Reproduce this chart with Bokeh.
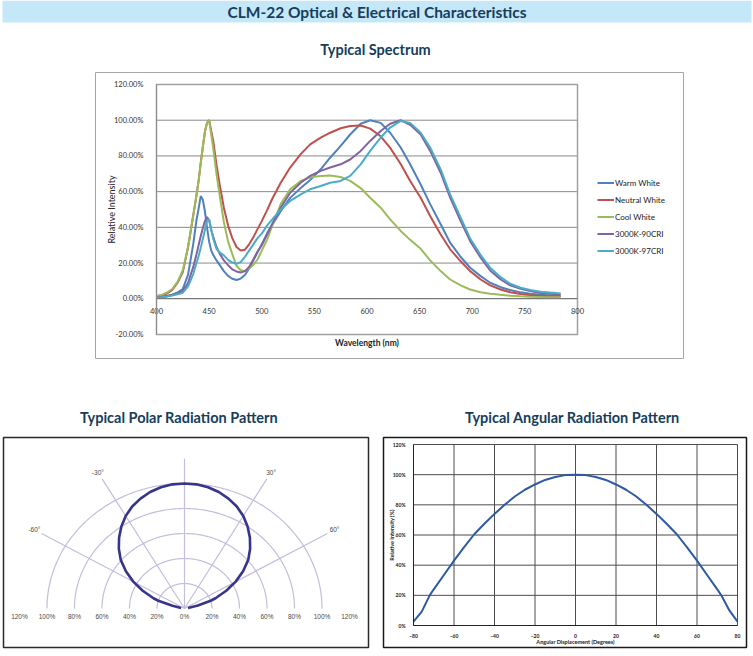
import numpy as np
from bokeh.plotting import figure
from bokeh.models import (Range1d, FixedTicker, PrintfTickFormatter, Legend, LegendItem)
from bokeh.layouts import column, row
from bokeh.core.properties import value
from bokeh.embed import file_html
from bokeh.resources import INLINE

# ---------------- DATA ----------------
page_title = "CLM-22 Optical & Electrical Characteristics"
spectrum_title = "Typical Spectrum"
polar_title = "Typical Polar Radiation Pattern"
angular_title = "Typical Angular Radiation Pattern"

wavelength_nm = [400, 405, 410, 415, 420, 425, 430, 435, 438, 440,
                 442, 444, 446, 448, 450, 452, 454, 457, 460, 464,
                 468, 472, 476, 480, 484, 488, 492, 496, 500, 505,
                 510, 518, 527, 537, 546, 556, 565, 575, 584, 594,
                 603, 613, 622, 632, 641, 651, 660, 670, 679, 689,
                 698, 708, 717, 727, 736, 746, 755, 765, 774, 784]

warm_white = [1, 1.2, 1.6, 2.3, 3.5, 5.5, 13.5, 31, 44, 50.5,
              57.5, 55.5, 49, 40, 32, 27, 24.5, 21.5, 19, 15.5,
              12.8, 11.2, 10.5, 11.3, 13.3, 17, 21.5, 26, 30.5, 36.5,
              41.5, 49, 56.5, 62, 66.5, 72.5, 79, 85.6, 92, 98,
              100, 98.5, 93, 84.7, 75.3, 64, 53, 41.7, 31.4, 23.4,
              17.4, 12.7, 9, 6.5, 4.9, 3.6, 2.8, 2.2, 1.9, 1.7]

neutral_white = [1.5, 2, 3, 5, 9, 15, 29, 47, 58, 66,
                 76, 85, 93.5, 98.5, 100, 94, 88, 75, 64, 51,
                 41, 34, 29, 27, 27.5, 30.5, 34.5, 39, 43.5, 49.5,
                 56, 65, 73.5, 81, 86.5, 90.3, 93, 95.5, 96.8, 97,
                 95.3, 91, 84.5, 75.5, 66, 56.6, 46.4, 36, 27.7, 21,
                 15.5, 10.8, 7.5, 5.2, 3.7, 2.7, 2, 1.7, 1.5, 1.3]

cool_white = [1.5, 2.2, 3.5, 5.5, 9.5, 16, 29, 47, 58, 66,
              76, 85, 93.5, 98.5, 100, 92, 84, 70, 58, 43,
              32, 25, 18.5, 16, 15.5, 17, 19, 22, 27, 33,
              41, 53, 61.3, 66, 68, 68.8, 69, 68.2, 66, 62,
              56.6, 51, 44.5, 38, 33, 28, 21.5, 15.5, 10.8, 7.5,
              5.2, 3.7, 2.8, 2.2, 1.7, 1.4, 1.2, 1.0, 0.9, 0.9]

k3000_90cri = [0.8, 1, 1.5, 2.3, 3, 4.3, 9, 18, 25, 30,
               35, 39.5, 43.5, 45.8, 44, 38.5, 34.5, 29, 25.3, 21.5,
               18.8, 16.5, 15.3, 14.7, 15.5, 17.8, 22, 26.5, 30, 36,
               42, 51, 59.4, 65, 68.8, 71.6, 73.5, 75.3, 78, 82.8,
               88.4, 94, 98, 100, 97.4, 92, 82.8, 70.6, 56.6, 43.5,
               32.3, 23, 15.9, 10.8, 7.5, 5.6, 4.3, 3.3, 2.8, 2.4]

k3000_97cri = [0.7, 0.9, 1.2, 1.8, 2.5, 3.4, 7, 14, 20, 24,
               28.5, 33.5, 38.5, 43.5, 44.5, 39, 33.5, 28, 26, 24.3,
               21.8, 20.3, 19.6, 20.5, 23.5, 27, 30.5, 34, 36.5, 41,
               44.5, 50, 54.8, 58.5, 61.3, 63.2, 65, 66, 68.8, 75.3,
               82.8, 90.3, 95.9, 99.6, 98.5, 93, 84.7, 72.5, 58.5, 45.4,
               33.8, 24.5, 17.4, 12.1, 8.4, 6.2, 4.9, 4, 3.5, 3]

series_names = ["Warm White", "Neutral White", "Cool White", "3000K-90CRI", "3000K-97CRI"]
spectrum_y_ticks = [-20, 0, 20, 40, 60, 80, 100, 120]
spectrum_x_ticks = [400, 450, 500, 550, 600, 650, 700, 750, 800]
spectrum_x_title = "Wavelength (nm)"
spectrum_y_title = "Relative Intensity"

angle_deg = [-80, -76, -72, -70, -65, -60, -55, -50, -45, -40, -35, -30, -25, -20, -15, -10, -5, 0,
             5, 10, 15, 20, 25, 30, 35, 40, 45, 50, 55, 60, 65, 70, 72, 76, 80]
relative_intensity = [2.5, 9, 20, 24, 33.5, 43, 52, 60.5, 67.5, 74, 80, 85.5, 90, 93.5, 96.5, 98.5, 99.7, 100,
                      99.7, 98.5, 96.5, 93.5, 90, 85.5, 80, 74, 67.5, 60.5, 52, 43, 33.5, 24, 20, 10, 2.6]
angular_x_ticks = [-80, -60, -40, -20, 0, 20, 40, 60, 80]
angular_y_ticks = [0, 20, 40, 60, 80, 100, 120]
angular_x_title = "Angular Displacement (Degrees)"
angular_y_title = "Relative Intensity (%)"

polar_rings = [20, 40, 60, 80, 100]
polar_spokes_deg = [-60, -30, 0, 30, 60]
polar_scale = [0, 20, 40, 60, 80, 100, 120]
polar_angle_labels_deg = [-60, -30, 30, 60]

# ---------------- STYLE ----------------
FONT = "Lato"
NAVY = "#163D5C"
series_colors = ["#4F81BD", "#C0504D", "#9BBB59", "#8064A2", "#4BACC6"]


def bare(p):
    p.grid.visible = False
    p.outline_line_color = None
    return p


def style_axis(axis, ticks, font_size, bold, color, standoff):
    axis.ticker = FixedTicker(ticks=ticks)
    axis.major_tick_line_color = None
    axis.minor_tick_line_color = None
    axis.major_label_text_font = FONT
    axis.major_label_text_font_style = "bold" if bold else "normal"
    axis.major_label_text_font_size = font_size
    axis.major_label_text_color = color
    axis.major_label_standoff = standoff


# ---------------- HEADER ----------------
head = bare(figure(width=753, height=70, x_range=Range1d(0, 753), y_range=Range1d(70, 0),
                   x_axis_location=None, y_axis_location=None, toolbar_location=None,
                   output_backend="svg", min_border=0))
head.quad(left=[2], right=[751], top=[0], bottom=[22], fill_color="#C5E8F9", line_color=None)
head.text(x=[376.5], y=[11.5], text=[page_title], text_font=value(FONT), text_font_style="bold",
          text_font_size=value("15.5px"), text_color=NAVY, text_align="center", text_baseline="middle")
head.text(x=[375], y=[48.5], text=[spectrum_title], text_font=value(FONT), text_font_style="bold",
          text_font_size=value("14.5px"), text_color=NAVY, text_align="center", text_baseline="middle")

# ---------------- SPECTRUM ----------------
# layout geometry (page pixels; this figure starts at page y = 70)
PA_L, PA_R, PA_T, PA_B = 156, 577, 84, 334      # Excel plot area
BOX_L, BOX_R, BOX_T, BOX_B = 95, 683, 72, 358   # Excel chart area (= bokeh frame)
sx_lo, sx_hi = spectrum_x_ticks[0], spectrum_x_ticks[-1]
sy_lo, sy_hi = spectrum_y_ticks[0], spectrum_y_ticks[-1]
kx = (PA_R - PA_L) / (sx_hi - sx_lo)
ky = (PA_B - PA_T) / (sy_hi - sy_lo)

spec = figure(width=753, height=324,
              x_range=Range1d(sx_lo - (PA_L - BOX_L) / kx, sx_hi + (BOX_R - PA_R) / kx),
              y_range=Range1d(sy_lo - (BOX_B - PA_B) / ky, sy_hi + (PA_T - BOX_T) / ky),
              toolbar_location=None, output_backend="svg",
              min_border_left=BOX_L, min_border_right=753 - BOX_R,
              min_border_top=BOX_T - 70, min_border_bottom=394 - BOX_B)
spec.grid.visible = False
spec.outline_line_color = "#a6a6a6"
spec.outline_line_width = 1

spec.segment(x0=[sx_lo] * len(spectrum_y_ticks), x1=[sx_hi] * len(spectrum_y_ticks),
             y0=spectrum_y_ticks, y1=spectrum_y_ticks, line_color="#8a8a8a", line_width=1)
spec.quad(left=[sx_lo], right=[sx_hi], bottom=[sy_lo], top=[sy_hi], fill_color=None,
          line_color="#a0a0a0", line_width=1.5)

yax = spec.yaxis[0]
style_axis(yax, spectrum_y_ticks, "7.5px", False, "#333333", 7)
yax.fixed_location = sx_lo
yax.bounds = (sy_lo, sy_hi)
yax.formatter = PrintfTickFormatter(format="%.2f%%")
yax.axis_line_color = "#8c8c8c"

xax = spec.xaxis[0]
style_axis(xax, spectrum_x_ticks, "7.5px", False, "#333333", 3)
xax.fixed_location = 0
xax.bounds = (sx_lo, sx_hi)
xax.axis_line_color = "#777777"

spec.text(x=[(sx_lo + sx_hi) / 2], y=[sy_lo - 8.5 / ky], text=[spectrum_x_title],
          text_font=value(FONT), text_font_style="bold", text_font_size=value("8.5px"),
          text_color="#222222", text_align="center", text_baseline="middle")
spec.text(x=[sx_lo - (PA_L - 111) / kx], y=[(sy_lo + sy_hi) / 2],
          text=[spectrum_y_title], angle=np.pi / 2,
          text_font=value(FONT), text_font_size=value("9px"),
          text_color="#222222", text_align="center", text_baseline="middle")

items = []
for name, vals, col in zip(series_names,
                           [warm_white, neutral_white, cool_white, k3000_90cri, k3000_97cri],
                           series_colors):
    r = spec.line(wavelength_nm, vals, line_color=col, line_width=2)
    items.append(LegendItem(label=name, renderers=[r]))

legend = Legend(items=items, location=(597 - BOX_L, BOX_B - 258), orientation="vertical",
                border_line_color=None, background_fill_alpha=0, label_text_font=FONT,
                label_text_font_size="8px", label_text_color="#222222",
                glyph_width=17, glyph_height=15, label_height=15, spacing=2,
                padding=0, margin=0, label_standoff=1)
spec.add_layout(legend)

# ---------------- SUBTITLE STRIP ----------------
strip = bare(figure(width=753, height=42, x_range=Range1d(0, 753), y_range=Range1d(42, 0),
                    x_axis_location=None, y_axis_location=None, toolbar_location=None,
                    output_backend="svg", min_border=0))
strip.text(x=[178.5, 572], y=[22.7, 22.7], text=[polar_title, angular_title], text_font=value(FONT),
           text_font_style="bold", text_font_size=value("14.5px"), text_color=NAVY,
           text_align="center", text_baseline="middle")

# ---------------- POLAR ----------------
pol = figure(width=380, height=220, x_range=Range1d(-131.6, 133.8), y_range=Range1d(-31.2, 136.8),
             x_axis_location=None, y_axis_location=None, toolbar_location=None,
             output_backend="svg", min_border_left=3, min_border_right=12,
             min_border_top=1, min_border_bottom=9)
pol.grid.visible = False
pol.outline_line_color = "#2b2b2b"
pol.outline_line_width = 1.5

GRID = "#c6bcdb"
t = np.linspace(-np.pi / 2, np.pi / 2, 181)
pol.multi_line(xs=[list(r * np.sin(t)) for r in polar_rings],
               ys=[list(r * np.cos(t)) for r in polar_rings],
               line_color=GRID, line_width=1.2)
sp = np.deg2rad(polar_spokes_deg)
L = max(polar_scale)
pol.segment(x0=[0] * len(sp), y0=[0] * len(sp), x1=list(L * np.sin(sp)), y1=list(L * np.cos(sp)),
            line_color=GRID, line_width=1.2)

lab_x = [-v for v in polar_scale[::-1]] + polar_scale[1:]
lab_t = [f"{v}%" for v in polar_scale[::-1]] + [f"{v}%" for v in polar_scale[1:]]
pol.text(x=lab_x, y=[-6.4] * len(lab_x), text=lab_t, text_font=value("Liberation Sans"),
         text_font_size=value("6.5px"), text_color="#4a4a4a", text_align="center",
         text_baseline="middle")
al = np.deg2rad(polar_angle_labels_deg)
pol.text(x=list(126 * np.sin(al)), y=list(126 * np.cos(al)),
         text=[f"{a}°" for a in polar_angle_labels_deg], text_font=value("Liberation Sans"),
         text_font_size=value("6.5px"), text_color="#4a4a4a", text_align="center",
         text_baseline="middle")

th = np.deg2rad(angle_deg)
ri = np.array(relative_intensity)
pol.line(x=list(ri * np.sin(th)), y=list(ri * np.cos(th)), line_color="#35358C", line_width=2.6)

# ---------------- ANGULAR ----------------
# page geometry; this figure starts at page (380, 436)
A_PA_L, A_PA_R, A_PA_T, A_PA_B = 413, 737, 444, 625
A_BOX_L, A_BOX_R, A_BOX_T, A_BOX_B = 383, 746, 437, 647
ax_lo, ax_hi = angular_x_ticks[0], angular_x_ticks[-1]
ay_lo, ay_hi = angular_y_ticks[0], angular_y_ticks[-1]
akx = (A_PA_R - A_PA_L) / (ax_hi - ax_lo)
aky = (A_PA_B - A_PA_T) / (ay_hi - ay_lo)

ang = figure(width=373, height=220,
             x_range=Range1d(ax_lo - (A_PA_L - A_BOX_L) / akx, ax_hi + (A_BOX_R - A_PA_R) / akx),
             y_range=Range1d(ay_lo - (A_BOX_B - A_PA_B) / aky, ay_hi + (A_PA_T - A_BOX_T) / aky),
             toolbar_location=None, output_backend="svg",
             min_border_left=A_BOX_L - 380, min_border_right=753 - A_BOX_R,
             min_border_top=A_BOX_T - 436, min_border_bottom=656 - A_BOX_B)
ang.grid.visible = False
ang.outline_line_color = "#1a1a1a"
ang.outline_line_width = 1.5

AG = "#4d4d4d"
ang.segment(x0=[ax_lo] * len(angular_y_ticks), x1=[ax_hi] * len(angular_y_ticks),
            y0=angular_y_ticks, y1=angular_y_ticks, line_color=AG, line_width=1)
ang.segment(x0=angular_x_ticks, x1=angular_x_ticks,
            y0=[ay_lo] * len(angular_x_ticks), y1=[ay_hi] * len(angular_x_ticks),
            line_color=AG, line_width=1)

for axis, ticks, loc, bounds in ((ang.xaxis[0], angular_x_ticks, ay_lo, (ax_lo, ax_hi)),
                                 (ang.yaxis[0], angular_y_ticks, ax_lo, (ay_lo, ay_hi))):
    style_axis(axis, ticks, "5px", True, "#222222", 2)
    axis.fixed_location = loc
    axis.bounds = bounds
    axis.axis_line_color = "#222222"
ang.yaxis[0].formatter = PrintfTickFormatter(format="%d%%")

ang.text(x=[(ax_lo + ax_hi) / 2], y=[ay_lo - 16 / aky], text=[angular_x_title],
         text_font=value(FONT), text_font_style="bold", text_font_size=value("5.5px"),
         text_color="#222222", text_align="center", text_baseline="middle")
ang.text(x=[ax_lo - 22 / akx], y=[(ay_lo + ay_hi) / 2], text=[angular_y_title], angle=np.pi / 2,
         text_font=value(FONT), text_font_style="bold", text_font_size=value("5.5px"),
         text_color="#222222", text_align="center", text_baseline="middle")

ang.line(angle_deg, relative_intensity, line_color="#2F58A5", line_width=2)

layout = column(row(head), row(spec), row(strip), row(pol, ang, spacing=0), spacing=0)
open("out.html", "w").write(file_html(layout, INLINE))
